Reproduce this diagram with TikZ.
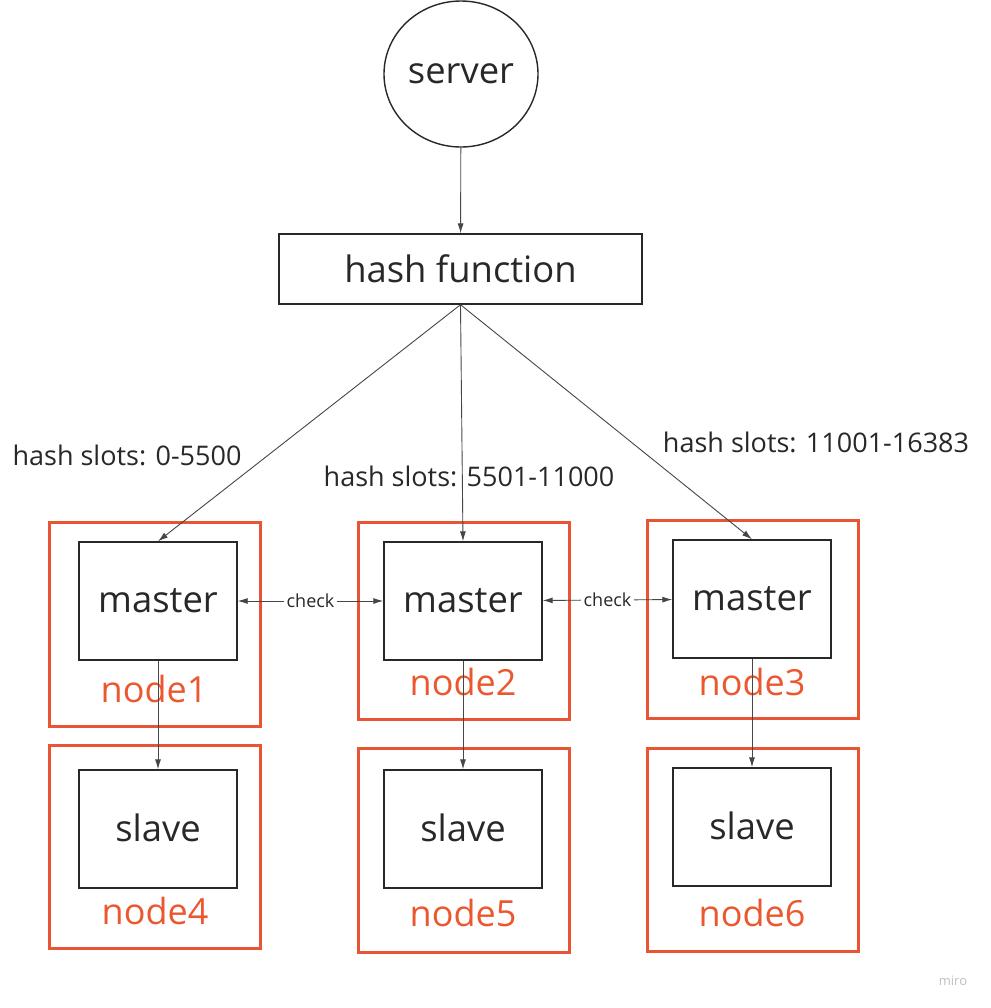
\documentclass[tikz,border=0pt]{standalone}
\usepackage{fontspec}
\setmainfont{Open Sans}
\usetikzlibrary{arrows.meta,shapes.geometric}
\definecolor{framered}{RGB}{233,84,52}
\definecolor{inkgray}{RGB}{40,40,40}
\definecolor{wiregray}{RGB}{70,70,70}

\begin{document}
\begin{tikzpicture}[x=0.5pt,y=-0.5pt,
            bigtext/.style={font=\fontsize{18.2}{21}\selectfont,text=inkgray},
            rolebox/.style={bigtext,draw=inkgray,line width=0.7pt,inner sep=0pt,
              minimum width=79pt,minimum height=59pt},
            frame/.style={draw=framered,line width=1.5pt,inner sep=0pt,minimum width=105.5pt},
            framelabel/.style={font=\fontsize{18}{21}\selectfont,text=framered!90!orange},
            slots/.style={font=\fontsize{13.5}{15}\selectfont,text=inkgray},
            wire/.style={draw=wiregray,line width=0.45pt,-{Latex[length=5pt,width=3pt]}},
            checkwire/.style={draw=wiregray,line width=0.45pt,{Latex[length=5pt,width=3pt]}-{Latex[length=5pt,width=3pt]}}]
            \useasboundingbox (0,0) rectangle (991,1008);

            % red frames
            \node[frame,minimum height=102pt]   (frame1) at (154.5,624) {};
            \node[frame,minimum height=98.5pt]  (frame2) at (463.5,620.5) {};
            \node[frame,minimum height=99pt]    (frame3) at (752.5,619) {};
            \node[frame,minimum height=101.5pt] (frame4) at (154.5,846.5) {};
            \node[frame,minimum height=102pt]   (frame5) at (463.5,850) {};
            \node[frame,minimum height=101.5pt] (frame6) at (752.5,849.5) {};
            \node[framelabel] (lab1) at (154,689) {node1};
            \node[framelabel] (lab2) at (463,682) {node2};
            \node[framelabel] (lab3) at (752,682) {node3};
            \node[framelabel] (lab4) at (155,911) {node4};
            \node[framelabel] (lab5) at (463,913) {node5};
            \node[framelabel] (lab6) at (752,913) {node6};

            % server and hash
            \node[bigtext,ellipse,draw=inkgray,line width=0.7pt,inner sep=0pt,
              minimum width=77pt,minimum height=73pt] (server) at (461,74) {server};
            \node[bigtext,draw=inkgray,line width=0.7pt,inner sep=0pt,
              minimum width=181.5pt,minimum height=35pt] (hash) at (460.5,269) {hash function};

            \node[rolebox] (m1) at (158,601) {\raisebox{1pt}{master}};
            \node[rolebox] (m2) at (463,601) {\raisebox{1pt}{master}};
            \node[rolebox] (m3) at (752,599) {\raisebox{1pt}{master}};
            \node[rolebox] (s4) at (158,829) {\raisebox{1pt}{slave}};
            \node[rolebox] (s5) at (463,829) {\raisebox{1pt}{slave}};
            \node[rolebox] (s6) at (752,827) {\raisebox{1pt}{slave}};

            \draw[wire] (server) -- (hash);
            \draw[wire] (hash.south) -- (m1.north);
            \draw[wire] (hash.south) -- (m2.north);
            \draw[wire] (hash.south) -- (m3.north);
            \draw[wire] (m1) -- (s4);
            \draw[wire] (m2) -- (s5);
            \draw[wire] (m3) -- (s6);
            \draw[checkwire] (m1) -- node[fill=white,inner sep=1.5pt,text=inkgray,
              font=\fontsize{9}{10}\selectfont] {check} (m2);
            \draw[checkwire] (m2) -- node[fill=white,inner sep=1.5pt,text=inkgray,
              font=\fontsize{9}{10}\selectfont] {check} (m3);

            \node[slots] (slots1) at (127,455) {hash slots: 0-5500};
            \node[slots] (slots2) at (469,476) {hash slots: 5501-11000};
            \node[slots] (slots3) at (816,442) {hash slots: 11001-16383};

            \node[text=black!25,font=\fontsize{6.5}{8}\selectfont] (miro) at (953,981) {miro};
            \end{tikzpicture}
\end{document}
